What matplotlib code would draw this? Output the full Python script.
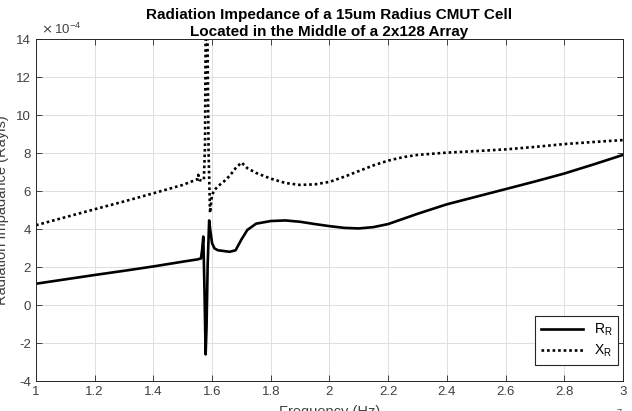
import numpy as np
import matplotlib
matplotlib.use("Agg")
import matplotlib.pyplot as plt
from matplotlib.ticker import FormatStrFormatter

plt.rcParams.update({"font.family": ["Liberation Sans", "DejaVu Sans"],
                     "axes.unicode_minus": False})

# frequency in units of 1e7 Hz, impedance in units of 1e-4 Rayls
freq_r = [1.00, 1.10, 1.20, 1.30, 1.40, 1.50, 1.55, 1.562, 1.566, 1.570,
          1.574, 1.578, 1.581, 1.585, 1.590, 1.594, 1.600, 1.608, 1.62, 1.64,
          1.66, 1.68, 1.70, 1.72, 1.75, 1.80, 1.85, 1.90, 1.95, 2.00, 2.05,
          2.10, 2.15, 2.20, 2.30, 2.40, 2.50, 2.60, 2.70, 2.80, 2.90, 3.00]
r_r = [1.12, 1.35, 1.58, 1.80, 2.03, 2.28, 2.40, 2.45, 2.9, 3.6,
       0.8, -2.6, -1.2, 2.2, 4.45, 3.9, 3.25, 2.98, 2.88, 2.84,
       2.80, 2.88, 3.45, 3.95, 4.28, 4.42, 4.45, 4.38, 4.26, 4.15, 4.06,
       4.03, 4.10, 4.26, 4.80, 5.30, 5.70, 6.10, 6.50, 6.92, 7.40, 7.90]

freq_x = [1.00, 1.10, 1.20, 1.30, 1.40, 1.45, 1.50, 1.53, 1.55, 1.553,
          1.556, 1.565, 1.572, 1.576, 1.578, 1.581, 1.584, 1.588, 1.593,
          1.598, 1.605, 1.62, 1.64, 1.66, 1.68, 1.70, 1.72, 1.75, 1.80,
          1.85, 1.90, 1.95, 2.00, 2.05, 2.10, 2.15, 2.20, 2.25, 2.30, 2.40,
          2.50, 2.60, 2.70, 2.80, 2.90, 3.00]
x_r = [4.20, 4.62, 5.04, 5.45, 5.88, 6.10, 6.32, 6.50, 6.62, 6.85,
       6.58, 6.55, 6.60, 8.5, 14.5, 40.0, 14.5, 8.0, 4.85,
       5.60, 6.00, 6.25, 6.50, 6.80, 7.20, 7.50, 7.20, 6.95, 6.65,
       6.42, 6.32, 6.35, 6.48, 6.75, 7.05, 7.35, 7.60, 7.78, 7.90, 8.02,
       8.10, 8.19, 8.32, 8.47, 8.58, 8.68]

xticks = np.arange(1.0, 3.01, 0.2)
yticks = np.arange(-4, 15, 2)

fig = plt.figure(figsize=(6.32, 4.11), dpi=100)
ax = fig.add_axes([36 / 632, 30 / 411, 587 / 632, 342 / 411])

ax.plot(freq_r, r_r, color="black", lw=1.9, label=r"$\mathregular{R_R}$")
ax.plot(freq_x, x_r, color="black", lw=1.9, linestyle=(0, (1, 1.1)),
        label=r"$\mathregular{X_R}$")

ax.set_xlim(1, 3)
ax.set_ylim(-4, 14)
ax.set_xticks(xticks)
ax.set_yticks(yticks)
ax.xaxis.set_major_formatter(FormatStrFormatter("%g"))
ax.yaxis.set_major_formatter(FormatStrFormatter("%g"))
ax.tick_params(direction="in", top=True, right=True, labelsize=9.5,
               colors="#262626", labelcolor="#404040", length=4, width=0.6)
for s in ax.spines.values():
    s.set_color("#262626")
    s.set_linewidth(0.7)
ax.grid(True, color="#e0e0e0", lw=0.7)
ax.set_axisbelow(True)

ax.set_xlabel("Frequency (Hz)", fontsize=10.5, color="#404040", labelpad=5)
ax.set_ylabel("Radiation Impadance (Rayls)", fontsize=10.5, color="#404040",
              labelpad=5)
ax.set_title("Radiation Impedance of a 15um Radius CMUT Cell\n"
             "Located in the Middle of a 2x128 Array",
             fontsize=11, fontweight="bold", pad=2, linespacing=1.25)
ax.text(0.008, 1.005, r"$\times\,\mathregular{10^{-4}}$", transform=ax.transAxes,
        fontsize=9.5, color="#404040", va="bottom", ha="left")
ax.text(1.0, -0.08, r"$\times\,\mathregular{10^{7}}$", transform=ax.transAxes,
        fontsize=9.5, color="#404040", va="top", ha="right")

leg = ax.legend(loc="lower right", bbox_to_anchor=(0.9915, 0.047),
                fontsize=10, handlelength=3.0, borderaxespad=0,
                fancybox=False, edgecolor="#262626", framealpha=1,
                labelspacing=0.35)
leg.get_frame().set_linewidth(0.8)

fig.savefig("out.png", dpi=100)
